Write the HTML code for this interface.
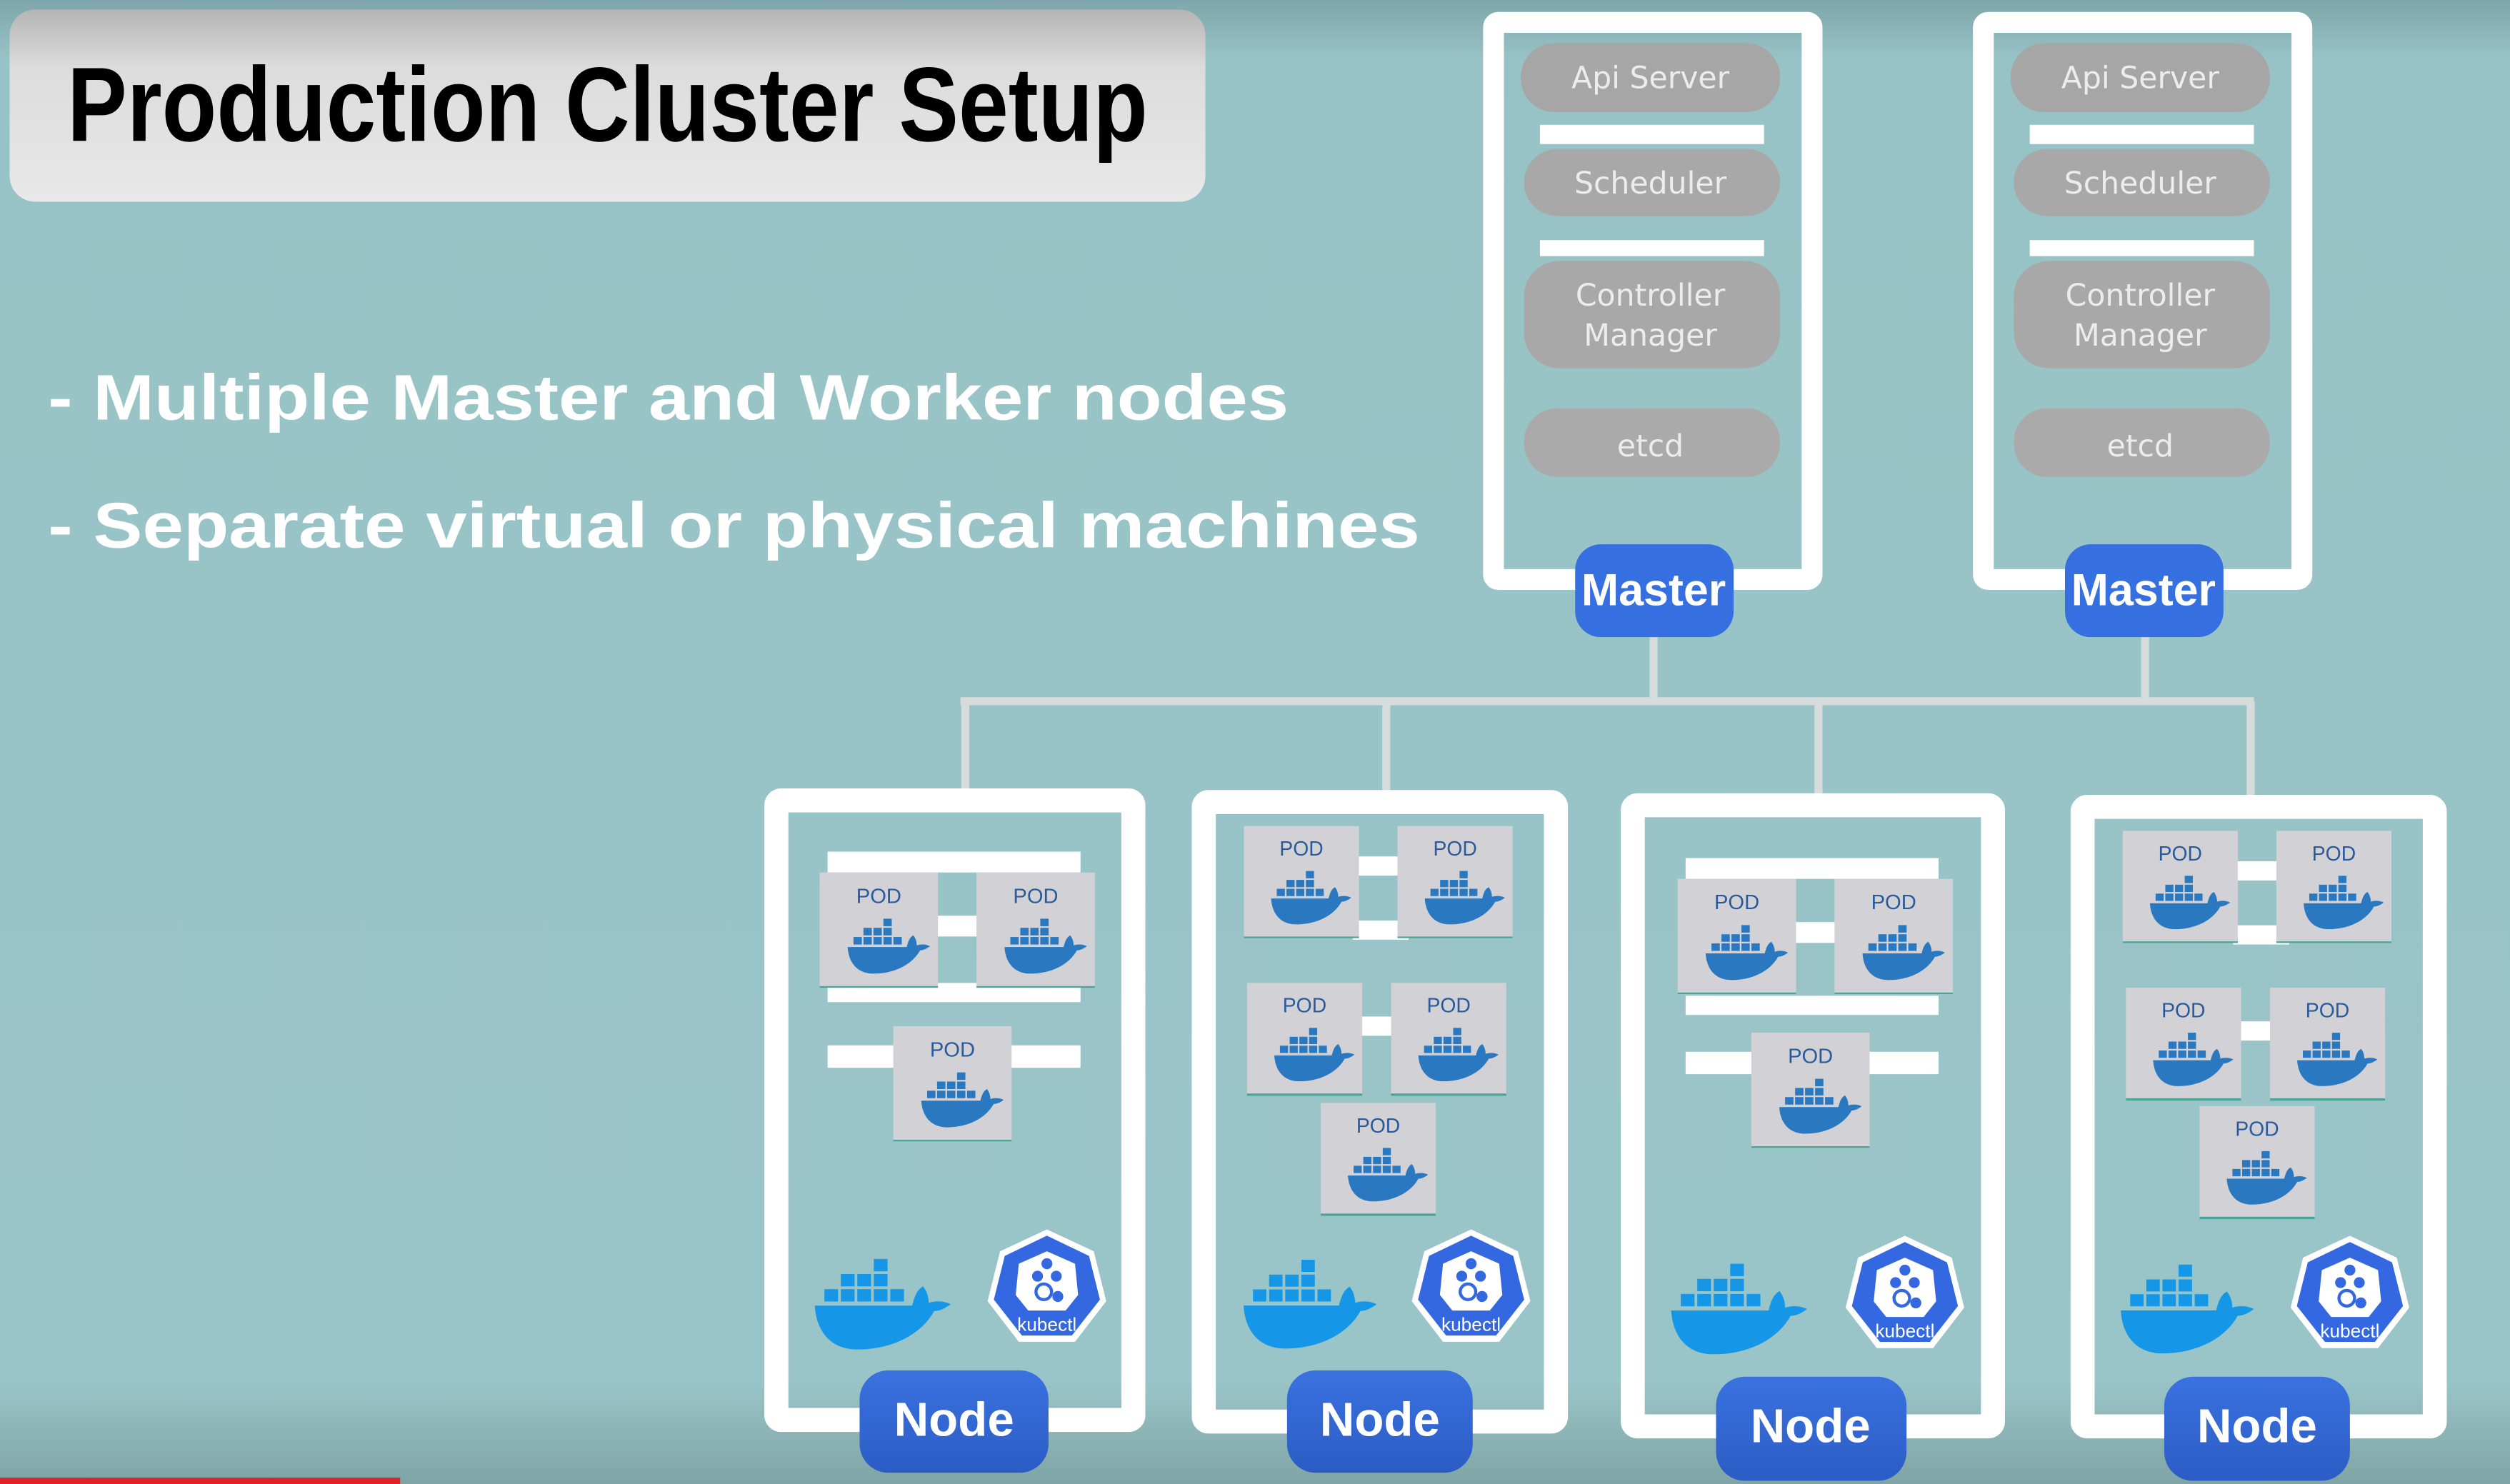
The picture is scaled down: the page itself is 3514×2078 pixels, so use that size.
<!DOCTYPE html>
<html><head><meta charset="utf-8"><style>html,body{margin:0;padding:0;background:#9ac5c8}svg{display:block}</style></head><body>
<svg width="3514" height="2078" viewBox="0 0 1568 927" preserveAspectRatio="none" xmlns="http://www.w3.org/2000/svg">
<defs>
<linearGradient id="bg" x1="0" y1="0" x2="0" y2="1">
<stop offset="0" stop-color="#7ea6aa"/><stop offset="0.04" stop-color="#98c3c6"/><stop offset="0.93" stop-color="#9ac5c8"/><stop offset="1" stop-color="#7fa4a6"/></linearGradient>
<linearGradient id="tb" x1="0" y1="0" x2="0" y2="1"><stop offset="0" stop-color="#b5b5b5"/><stop offset="0.3" stop-color="#dcdcdc"/><stop offset="1" stop-color="#e8e8e8"/></linearGradient>
<linearGradient id="btn" x1="0" y1="0" x2="0" y2="1"><stop offset="0" stop-color="#3a72e0"/><stop offset="1" stop-color="#2c5cc4"/></linearGradient>
<symbol id="whale" viewBox="0 0 100 70">
<g fill="currentColor">
<rect x="44" y="4" width="10" height="9"/>
<rect x="20" y="15" width="10" height="9"/><rect x="32" y="15" width="10" height="9"/><rect x="44" y="15" width="10" height="9"/>
<rect x="8" y="26" width="10" height="9"/><rect x="20" y="26" width="10" height="9"/><rect x="32" y="26" width="10" height="9"/><rect x="44" y="26" width="10" height="9"/><rect x="56" y="26" width="10" height="9"/>
<path d="M1 38 H72 C74 30 76 26 80 24 C83 28 84 32 84 36 C90 34 96 35 100 37 C96 40 92 42 88 42 C78 60 56 70 32 70 C12 70 2 56 1 38 Z"/>
</g></symbol>
<symbol id="pod" viewBox="0 0 74 72">
<rect x="0" y="0" width="74" height="72" fill="#d2d2d6"/>
<rect x="0" y="71" width="74" height="1.5" fill="#4aa596"/>
<text x="37" y="19" text-anchor="middle" font-family="Liberation Sans, sans-serif" font-size="13" fill="#2a5a9a">POD</text>
<use href="#whale" x="17" y="26" width="52" height="38" style="color:#2a78c0"/>
</symbol>
<symbol id="kube" viewBox="0 0 80 80">
<polygon points="40,2 70,16 78,48 58,74 22,74 2,48 10,16" fill="#fff"/>
<polygon points="40,6 67,19 74,47 56,70 24,70 6,47 13,19" fill="#3468e0"/>
<polygon points="40,16 58,24 60,44 52,54 28,54 20,44 22,24" fill="#fff"/>
<g fill="#3468e0"><circle cx="40" cy="24" r="3.5"/><circle cx="34" cy="32" r="3.5"/><circle cx="46" cy="32" r="3.5"/><circle cx="38" cy="42" r="5" fill="none" stroke="#3468e0" stroke-width="2"/><circle cx="47" cy="45" r="3.5"/></g>
<text x="40" y="67" text-anchor="middle" font-family="Liberation Sans, sans-serif" font-size="12" fill="#fff">kubectl</text>
</symbol>
</defs>
<rect width="1568" height="927" fill="url(#bg)"/>
<!-- title -->
<rect x="6" y="6" width="747" height="120" rx="16" fill="url(#tb)"/>
<text x="42" y="88" font-family="Liberation Sans Narrow, Liberation Sans, sans-serif" font-weight="bold" font-size="66" textLength="675" lengthAdjust="spacingAndGlyphs" fill="#000">Production Cluster Setup</text>
<text x="30" y="262" font-family="Liberation Sans, sans-serif" font-weight="bold" font-size="40" textLength="775" lengthAdjust="spacingAndGlyphs" fill="#fff">- Multiple Master and Worker nodes</text>
<text x="30" y="342" font-family="Liberation Sans, sans-serif" font-weight="bold" font-size="40" textLength="857" lengthAdjust="spacingAndGlyphs" fill="#fff">- Separate virtual or physical machines</text>

<!-- connectors -->
<g stroke="#d6dcdc" stroke-width="5" fill="none">
<path d="M1033 398 V438 M1340 398 V438 M600 438 H1408 M603 438 V495 M866 438 V497 M1136 438 V499 M1406 438 V500"/>
</g>

<!-- masters -->
<g id="m1">
<rect x="933" y="14" width="199" height="348" fill="none" stroke="#fff" stroke-width="13" rx="3"/>
<rect x="950" y="27" width="162" height="43" rx="21" fill="#a6a6a6"/>
<rect x="962" y="78" width="140" height="12" fill="#fff"/>
<rect x="952" y="93" width="160" height="42" rx="21" fill="#a8a8a8"/>
<rect x="962" y="150" width="140" height="10" fill="#fff"/>
<rect x="952" y="163" width="160" height="67" rx="22" fill="#a8a8a8"/>
<rect x="952" y="255" width="160" height="43" rx="21" fill="#aaaaaa"/>
<g font-family="DejaVu Sans, Liberation Sans, sans-serif" font-size="19" fill="#ececec" text-anchor="middle">
<text x="1031" y="55">Api Server</text>
<text x="1031" y="121">Scheduler</text>
<text x="1031" y="191">Controller</text>
<text x="1031" y="216">Manager</text>
<text x="1031" y="285">etcd</text>
</g>
<rect x="984" y="340" width="99" height="58" rx="16" fill="#356fe0"/>
<text x="1033" y="378" text-anchor="middle" font-family="Liberation Sans Narrow, Liberation Sans, sans-serif" font-weight="bold" font-size="28" fill="#fff">Master</text>
</g>
<use href="#m1" x="306" y="0"/>

<!-- nodes -->
<g fill="none" stroke="#fff" stroke-width="15">
<rect x="485" y="500" width="223" height="387" rx="3"/>
<rect x="752" y="501" width="220" height="387" rx="3"/>
<rect x="1020" y="503" width="225" height="388" rx="3"/>
<rect x="1301" y="504" width="220" height="387" rx="3"/>
</g>
<g fill="#fff">
<!-- node1 bars -->
<rect x="517" y="532" width="158" height="13"/><rect x="580" y="572" width="40" height="13"/><rect x="517" y="614" width="158" height="12"/><rect x="517" y="653" width="158" height="14"/>
<!-- node2 -->
<rect x="845" y="535" width="35" height="12"/><rect x="845" y="575" width="35" height="12"/><rect x="845" y="635" width="35" height="12"/>
<!-- node3 -->
<rect x="1053" y="536" width="158" height="13"/><rect x="1115" y="576" width="40" height="13"/><rect x="1053" y="622" width="158" height="12"/><rect x="1053" y="657" width="158" height="14"/>
<!-- node4 -->
<rect x="1395" y="538" width="35" height="12"/><rect x="1395" y="578" width="35" height="12"/><rect x="1395" y="638" width="35" height="12"/>
</g>
<g>
<use href="#pod" x="512" y="545" width="74" height="72"/><use href="#pod" x="610" y="545" width="74" height="72"/><use href="#pod" x="558" y="641" width="74" height="72"/>
<use href="#pod" x="777" y="516" width="72" height="70"/><use href="#pod" x="873" y="516" width="72" height="70"/><use href="#pod" x="779" y="613" width="72" height="72"/><use href="#pod" x="869" y="613" width="72" height="72"/><use href="#pod" x="825" y="688" width="72" height="72"/>
<use href="#pod" x="1048" y="549" width="74" height="72"/><use href="#pod" x="1146" y="549" width="74" height="72"/><use href="#pod" x="1094" y="645" width="74" height="72"/>
<use href="#pod" x="1326" y="519" width="72" height="70"/><use href="#pod" x="1422" y="519" width="72" height="70"/><use href="#pod" x="1328" y="616" width="72" height="72"/><use href="#pod" x="1418" y="616" width="72" height="72"/><use href="#pod" x="1374" y="690" width="72" height="72"/>
</g>
<g style="color:#1596e6">
<use href="#whale" x="508" y="783" width="86" height="60"/>
<use href="#whale" x="776" y="783" width="84" height="60"/>
<use href="#whale" x="1043" y="786" width="86" height="60"/>
<use href="#whale" x="1324" y="786" width="84" height="60"/>
</g>
<use href="#kube" x="615" y="766" width="78" height="78"/>
<use href="#kube" x="880" y="766" width="78" height="78"/>
<use href="#kube" x="1151" y="770" width="78" height="78"/>
<use href="#kube" x="1429" y="770" width="78" height="78"/>
<g font-family="Liberation Sans Narrow, Liberation Sans, sans-serif" font-weight="bold" font-size="30" fill="#fff" text-anchor="middle">
<rect x="537" y="856" width="118" height="64" rx="18" fill="url(#btn)"/><text x="596" y="897">Node</text>
<rect x="804" y="856" width="116" height="64" rx="18" fill="url(#btn)"/><text x="862" y="897">Node</text>
<rect x="1072" y="860" width="119" height="65" rx="18" fill="url(#btn)"/><text x="1131" y="901">Node</text>
<rect x="1352" y="860" width="116" height="65" rx="18" fill="url(#btn)"/><text x="1410" y="901">Node</text>
</g>
<rect x="0" y="923" width="250" height="4" fill="#e0202a"/>
</svg>
</body></html>
